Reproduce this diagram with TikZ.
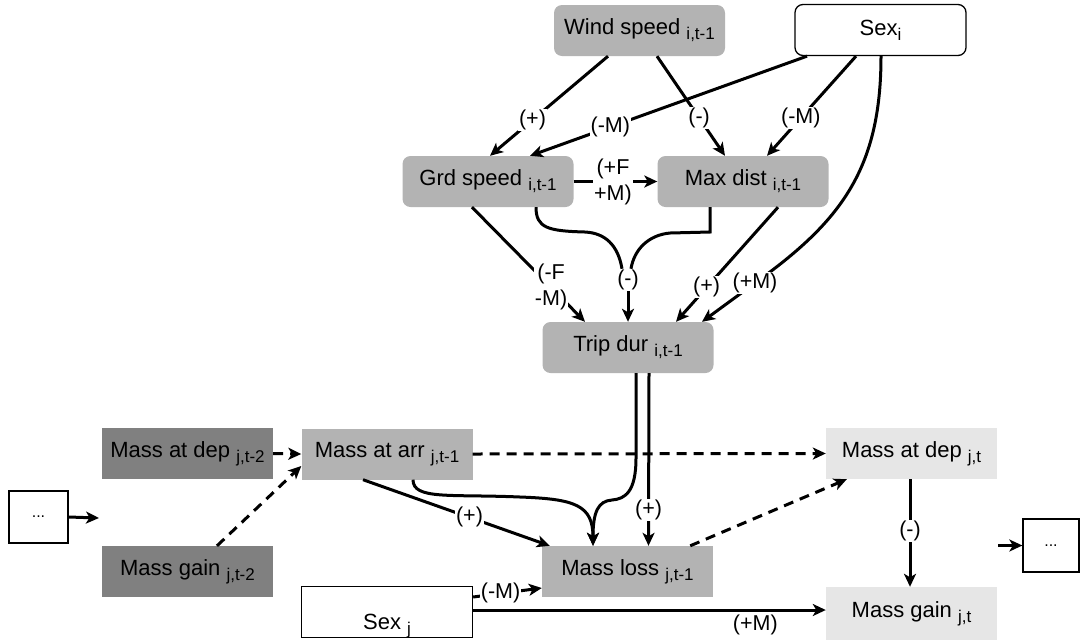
\documentclass[tikz,border=0pt]{standalone}
\usepackage{fontspec}
\setmainfont{Liberation Sans}
\usetikzlibrary{arrows.meta,calc}
\definecolor{cMid}{HTML}{B3B3B3}
\definecolor{cDark}{HTML}{808080}
\definecolor{cLight}{HTML}{E6E6E6}
\newcommand\mysub[1]{\raisebox{-5pt}{\fontsize{17}{17}\selectfont #1}}
\begin{document}
\begin{tikzpicture}[x=1pt,y=-1pt,
  box/.style={minimum width=171pt,minimum height=51pt,inner sep=0pt,font=\fontsize{22}{26}\selectfont},
  rbox/.style={box,rounded corners=8pt},
  pln/.style={line width=3pt},
  arr/.style={line width=3pt,-{Stealth[length=13pt,width=12pt,inset=3.5pt]}},
  dsh/.style={arr,dash pattern=on 10pt off 7pt},
  lab/.style={fill=white,inner sep=1pt,font=\fontsize{21.5}{26}\selectfont,align=center},
  dots/.style={draw=black,line width=1.3pt,inner sep=0pt,font=\fontsize{16}{16}\selectfont}]
\useasboundingbox (0,0) rectangle (1081,641);

% nodes
\node[rbox,fill=cMid] (wind) at (639.5,30.5) {Wind speed \mysub{i,t-1}};
\node[rbox,fill=white,draw=black,line width=1.3pt] (sexi) at (880.5,30) {Sex\mysub{i}};
\node[rbox,fill=cMid] (grd) at (488,181.5) {Grd speed \mysub{i,t-1}};
\node[rbox,fill=cMid] (maxd) at (743,181.5) {Max dist \mysub{i,t-1}};
\node[rbox,fill=cMid] (trip) at (628,347.5) {Trip dur \mysub{i,t-1}};
\node[box,fill=cDark] (mdep2) at (187.5,453.5) {Mass at dep \mysub{j,t-2}};
\node[box,fill=cMid] (marr) at (387,454) {Mass at arr \mysub{j,t-1}};
\node[box,fill=cLight] (mdept) at (911.5,453.5) {Mass at dep \mysub{j,t}};
\node[box,fill=cDark] (mgain2) at (187.5,571.5) {Mass gain \mysub{j,t-2}};
\node[box,fill=cMid] (mloss) at (627.5,571.5) {Mass loss \mysub{j,t-1}};
\node[box,draw=black,line width=1.3pt] (sexj) at (387,612) {\raisebox{-14pt}[\height][\depth]{Sex \mysub{j}}};
\node[box,fill=cLight,minimum height=53pt] (mgaint) at (911.5,613.5) {Mass gain \mysub{j,t}};
\node[dots,minimum width=59pt,minimum height=52pt] (dotsL) at (38.5,517) {...};
\node[dots,minimum width=56pt,minimum height=53pt] (dotsR) at (1051,545.5) {...};
\coordinate (lend) at (99,518);
\coordinate (rstart) at (998,545.5);

% top edges
\draw[arr] ([xshift=-31.5pt]wind.south) -- node[lab,pos=0.64]{(+)} ([xshift=2pt]grd.north);
\draw[arr] ([xshift=17.5pt]wind.south) -- node[lab,pos=0.62]{(-)} ([xshift=-18pt]maxd.north);
\draw[arr] ([xshift=-73.5pt]sexi.south) -- node[lab,pos=0.71]{(-M)} ([xshift=42pt]grd.north);
\draw[arr] ([xshift=-24.5pt]sexi.south) -- node[lab,pos=0.62]{(-M)} ([xshift=24pt]maxd.north);
\draw[arr] (grd.east) -- node[lab,pos=0.47]{(+F\\+M)} (maxd.west);
\draw[arr] ([xshift=-16pt]grd.south) -- node[lab,pos=0.7]{(-F\\-M)} ([xshift=-43pt]trip.north);

% merged (-) edges
\node[lab] (mrg) at (628,280) {(-)};
\draw[pln] ([xshift=48pt]grd.south) .. controls (536,228) and (548,231) .. (585,232) .. controls (605,233) and (618,245) .. ([xshift=-6pt]mrg.north);
\draw[pln,line join=miter] ([xshift=-33pt]maxd.south) -- (710,232) -- (670,233) .. controls (648,235) and (634,250) .. ([xshift=3pt]mrg.north);
\draw[arr] (mrg.south) -- (trip.north);

\draw[arr] ([xshift=35pt]maxd.south) -- node[lab,pos=0.7]{(+)} ([xshift=48pt]trip.north);
\draw[arr] ([xshift=0.5pt]sexi.south) .. controls (881,170) and (840,222) .. (755,283) node[lab]{(+M)} -- ([xshift=74pt]trip.north);

% lower edges
\draw[arr] ([xshift=8pt]trip.south) -- (636,458) .. controls (636,492) and (625,499) .. (612,500) .. controls (598,501) and (593,512) .. ([xshift=-34.5pt]mloss.north);
\draw[arr] ([xshift=26pt]marr.south) .. controls (413,500) and (450,494) .. (520,497) .. controls (575,499) and (593,505) .. ([xshift=-34.5pt]mloss.north);
\draw[arr] ([xshift=21pt]trip.south) -- node[lab,pos=0.79]{(+)} ([xshift=21pt]mloss.north);
\draw[arr] ([xshift=-24pt]marr.south) -- node[lab,pos=0.57]{(+)} ([xshift=8pt]mloss.north west);
\draw[dsh] (marr.east) -- (mdept.west);
\draw[dsh] ([xshift=-23pt]mloss.north east) -- ([xshift=21pt]mdept.south west);
\draw[arr] ([xshift=-1.5pt]mdept.south) -- node[lab,pos=0.48]{(-)} ([xshift=-1.5pt]mgaint.north);
\draw[arr] ([yshift=15pt]sexj.east) -- node[lab,pos=0.4]{(-M)} ([yshift=-16.5pt]mloss.west);
\draw[arr] ([yshift=2pt]sexj.east) -- node[lab,pos=0.8,yshift=-15pt]{(+M)} ([yshift=3.5pt]mgaint.west);
\draw[arr] (dotsL.east) -- (lend);
\draw[arr] (rstart) -- (dotsR.west);
\draw[dsh] (mdep2.east) -- (marr.west);
\draw[dsh] ([xshift=29.5pt]mgain2.north) -- ([yshift=-12pt]marr.west);
\end{tikzpicture}
\end{document}
